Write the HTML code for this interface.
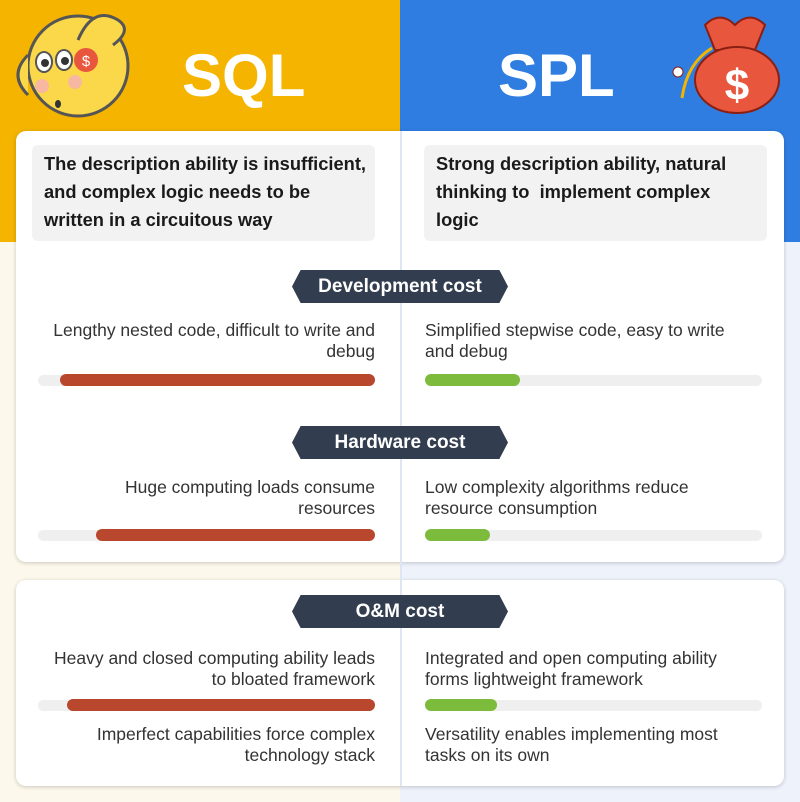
<!DOCTYPE html>
<html><head><meta charset="utf-8"><style>
*{margin:0;padding:0;box-sizing:border-box}
body{width:800px;height:802px;position:relative;overflow:hidden;font-family:"Liberation Sans",Arial,sans-serif;color:#222}
.a{position:absolute}
.t{position:absolute;font-size:17.5px;line-height:21px;white-space:nowrap;color:#333}
.r{text-align:right}
.track{position:absolute;height:11px;border-radius:6px;background:#efefef}
.fill{position:absolute;height:12px;border-radius:6px}
.red{background:#b9472e}.grn{background:#7dbb3c}
.ban{position:absolute;left:292px;width:216px;height:33px;background:#323d4f;color:#fff;font-weight:bold;font-size:19px;line-height:33px;text-align:center;clip-path:polygon(4% 0,96% 0,100% 50%,96% 100%,4% 100%,0 50%)}
.desc{position:absolute;top:145px;width:343px;height:96px;background:#f2f2f2;border-radius:6px;font-weight:bold;font-size:18.3px;line-height:28px;padding:5px 12px;color:#1a1a1a;white-space:nowrap}
</style></head><body>
<div class="a" style="left:0;top:0;width:400px;height:242px;background:#f4b400"></div>
<div class="a" style="left:400px;top:0;width:400px;height:242px;background:#2f7de1"></div>
<div class="a" style="left:0;top:242px;width:400px;height:560px;background:#fdf8ec"></div>
<div class="a" style="left:400px;top:242px;width:400px;height:560px;background:#eef2fb"></div>

<svg class="a" style="left:0;top:0" width="800" height="130">
 <circle cx="78" cy="66" r="50" fill="#fad84a" stroke="#555" stroke-width="3"/>
 <path d="M80 20 q25-20 20-0" fill="none"/>
 <path d="M78 40 q15-35 40-20 q15 10 -5 25" fill="#fad84a" stroke="#555" stroke-width="3"/>
 <path d="M28 55 q-20 20 0 40" fill="#fad84a" stroke="#555" stroke-width="3"/>
 <ellipse cx="44" cy="62" rx="8" ry="10" fill="#fff" stroke="#555" stroke-width="2"/>
 <ellipse cx="64" cy="60" rx="8" ry="10" fill="#fff" stroke="#555" stroke-width="2"/>
 <circle cx="45" cy="63" r="4" fill="#333"/><circle cx="65" cy="61" r="4" fill="#333"/>
 <circle cx="42" cy="86" r="7" fill="#f7b7a0"/><circle cx="75" cy="82" r="7" fill="#f7b7a0"/>
 <ellipse cx="58" cy="104" rx="3" ry="4" fill="#333"/>
 <circle cx="86" cy="60" r="12" fill="#e8563d"/>
 <text x="86" y="66" font-size="15" fill="#fff" text-anchor="middle" font-family="Liberation Sans">$</text>
 <text x="182" y="96" font-size="60" font-weight="bold" fill="#fff" font-family="Liberation Sans">SQL</text>
 <text x="498" y="96" font-size="60" font-weight="bold" fill="#fff" font-family="Liberation Sans">SPL</text>
 <path d="M705 25 q15 -15 30 0 q15 -15 30 0 l-10 25 h-40z" fill="#e8563d" stroke="#8a1f12" stroke-width="2"/>
 <ellipse cx="737" cy="80" rx="42" ry="33" fill="#e8563d" stroke="#8a1f12" stroke-width="2"/>
 <path d="M712 48 q-25 15 -30 50" stroke="#f4b400" stroke-width="3" fill="none"/>
 <circle cx="678" cy="72" r="5" fill="#fff" stroke="#8a1f12"/>
 <text x="737" y="100" font-size="44" font-weight="bold" fill="#fff" text-anchor="middle" font-family="Liberation Sans">$</text>
</svg>

<div class="a" style="left:16px;top:131px;width:768px;height:431px;background:#fff;border-radius:10px;box-shadow:0 1px 4px rgba(0,0,0,.2)"></div>
<div class="a" style="left:16px;top:580px;width:768px;height:206px;background:#fff;border-radius:10px;box-shadow:0 1px 4px rgba(0,0,0,.2)"></div>
<div class="a" style="left:400px;top:131px;width:2px;height:655px;background:#dde6f2"></div>

<div class="desc" style="left:32px">The description ability is insufficient,<br>and complex logic needs to be<br>written in a circuitous way</div>
<div class="desc" style="left:424px">Strong description ability, natural<br>thinking to&nbsp; implement complex<br>logic</div>

<div class="ban" style="top:270px">Development cost</div>
<div class="ban" style="top:426px">Hardware cost</div>
<div class="ban" style="top:595px">O&amp;M cost</div>

<div class="t r" style="right:425px;top:320px">Lengthy nested code, difficult to write and<br>debug</div>
<div class="t" style="left:425px;top:320px">Simplified stepwise code, easy to write<br>and debug</div>
<div class="track" style="left:38px;top:375px;width:337px"></div><div class="fill red" style="left:60px;top:374px;width:315px"></div>
<div class="track" style="left:425px;top:375px;width:337px"></div><div class="fill grn" style="left:425px;top:374px;width:95px"></div>

<div class="t r" style="right:425px;top:477px">Huge computing loads consume<br>resources</div>
<div class="t" style="left:425px;top:477px">Low complexity algorithms reduce<br>resource consumption</div>
<div class="track" style="left:38px;top:530px;width:337px"></div><div class="fill red" style="left:96px;top:529px;width:279px"></div>
<div class="track" style="left:425px;top:530px;width:337px"></div><div class="fill grn" style="left:425px;top:529px;width:65px"></div>

<div class="t r" style="right:425px;top:648px">Heavy and closed computing ability leads<br>to bloated framework</div>
<div class="t" style="left:425px;top:648px">Integrated and open computing ability<br>forms lightweight framework</div>
<div class="track" style="left:38px;top:700px;width:337px"></div><div class="fill red" style="left:67px;top:699px;width:308px"></div>
<div class="track" style="left:425px;top:700px;width:337px"></div><div class="fill grn" style="left:425px;top:699px;width:72px"></div>

<div class="t r" style="right:425px;top:724px">Imperfect capabilities force complex<br>technology stack</div>
<div class="t" style="left:425px;top:724px">Versatility enables implementing most<br>tasks on its own</div>
</body></html>
